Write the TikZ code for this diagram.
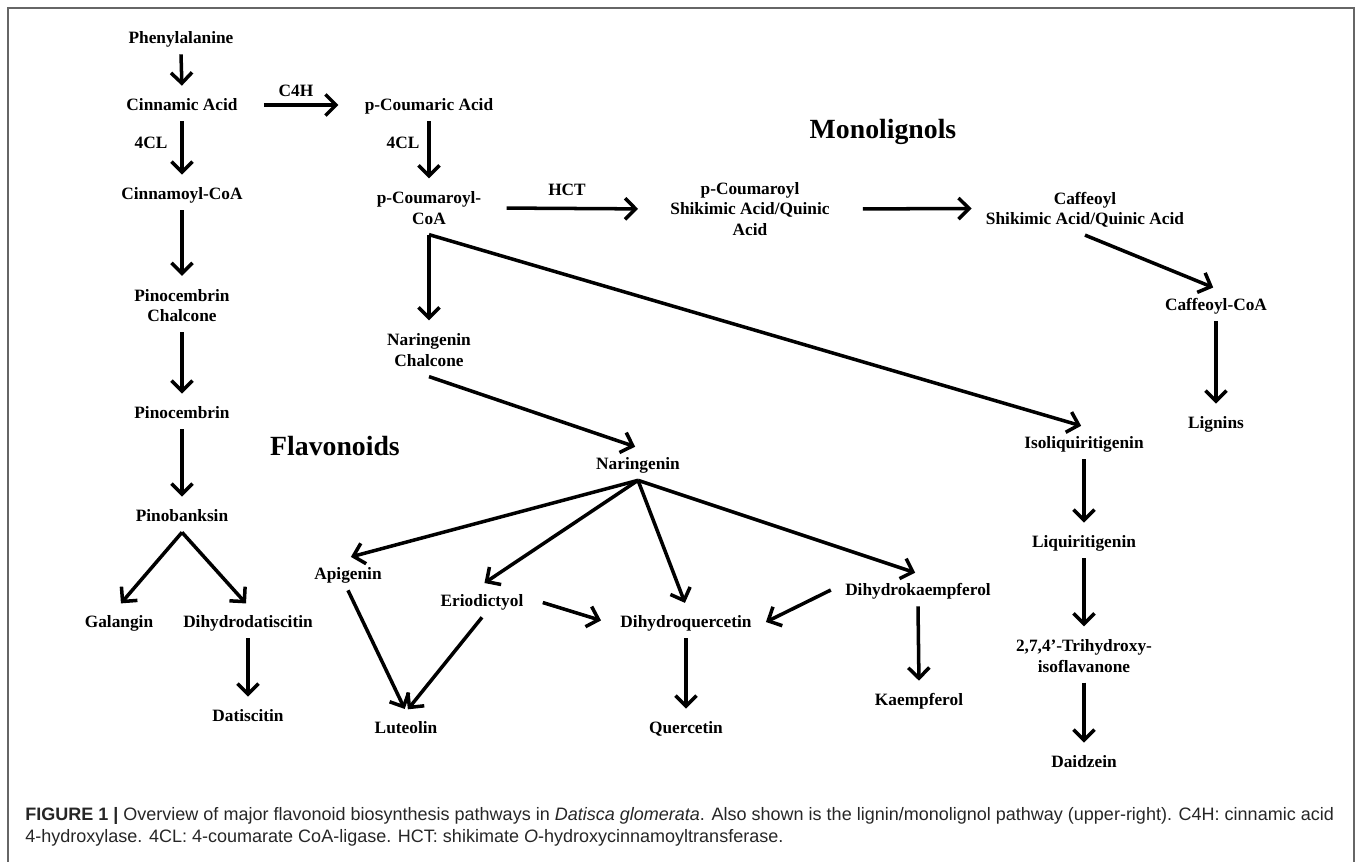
\documentclass[tikz,border=0pt]{standalone}
\usepackage{fontspec}
\setmainfont{Liberation Serif}
\newfontfamily\capfont{Liberation Sans}
\usetikzlibrary{arrows.meta}

\begin{document}
\begin{tikzpicture}[x=0.02cm, y=-0.02cm,
    met/.style={font=\bfseries\fontsize{9.85}{11.7}\selectfont, align=center,
        inner xsep=8pt, inner ysep=3.6pt, text height=8.8pt, text depth=2.2pt},
    two/.style={text height=20.5pt},
    three/.style={text height=32.2pt},
    enz/.style={font=\bfseries\fontsize{9.85}{11.7}\selectfont, inner sep=0pt},
    grp/.style={font=\bfseries\fontsize{15.8}{18}\selectfont, inner sep=0pt, anchor=base},
    flow/.style={-{Straight Barb[length=6pt,width=12pt]}, line width=2pt, shorten >=1.7pt},
]
    \useasboundingbox (0,0) rectangle (1357,862);
    \draw[black!60, line width=1.2pt] (8,862) -- (8,8) -- (1354,8) -- (1354,862);

    \node[met] (phe) at (181,38) {Phenylalanine};
    \node[met] (cin) at (182,105) {Cinnamic Acid};
    \node[met] (pca) at (429,105) {p-Coumaric Acid};
    \node[met] (cco) at (182,194) {Cinnamoyl-CoA};
    \node[met, two] (pcoa) at (429,208) {p-Coumaroyl-\\CoA};
    \node[met, three] (pshk) at (750,209) {p-Coumaroyl\\Shikimic Acid/Quinic\\Acid};
    \node[met, two] (cshk) at (1085,208.5) {Caffeoyl\\Shikimic Acid/Quinic Acid};
    \node[met] (cfcoa) at (1216,305) {Caffeoyl-CoA};
    \node[met] (lig) at (1216,423) {Lignins};

    \node[met, two] (pchal) at (182,305.5) {Pinocembrin\\Chalcone};
    \node[met] (pinc) at (182,413) {Pinocembrin};
    \node[met] (pinb) at (182,516) {Pinobanksin};
    \node[met] (gal) at (119,622) {Galangin};
    \node[met] (ddat) at (248,622) {Dihydrodatiscitin};
    \node[met] (dat) at (248,716) {Datiscitin};

    \node[met, two] (nchal) at (429,350) {Naringenin\\Chalcone};
    \node[met] (nar) at (638,464) {Naringenin};
    \node[met] (api) at (348,574) {Apigenin};
    \node[met] (eri) at (482,601) {Eriodictyol};
    \node[met] (dhq) at (686,622) {Dihydroquercetin};
    \node[met] (dhk) at (918,590) {Dihydrokaempferol};
    \node[met] (lut) at (406,728) {Luteolin};
    \node[met] (que) at (686,728) {Quercetin};
    \node[met] (kae) at (919,700) {Kaempferol};

    \node[met] (iso) at (1084,443) {Isoliquiritigenin};
    \node[met] (liq) at (1084,542) {Liquiritigenin};
    \node[met, two] (thi) at (1084,656) {2,7,4’-Trihydroxy-\\isoflavanone};
    \node[met] (dai) at (1084,762) {Daidzein};

    \node[enz] (c4h) at (296,91) {C4H};
    \node[enz] (cl1) at (151,143) {4CL};
    \node[enz] (cl2) at (403,143) {4CL};
    \node[enz] (hct) at (567,190) {HCT};
    \node[grp] (mono) at (883,138) {Monolignols};
    \node[grp] (flav) at (335,455) {Flavonoids};

    \draw[flow] (phe.south) -- (cin.north);
    \draw[flow, shorten <=6.8pt, shorten >=6.8pt] (cin.east) -- (pca.west);
    \draw[flow] (cin.south) -- (cco.north);
    \draw[flow] (pca.south) -- (pcoa.north);
    \draw[flow, shorten <=6.3pt, shorten >=10.2pt] (pcoa.east) -- (pshk.west);
    \draw[flow, shorten <=10.8pt, shorten >=0pt] (pshk.east) -- (cshk.west);
    \draw[flow] (cshk.south) -- (cfcoa.north);
    \draw[flow] (cfcoa.south) -- (lig.north);

    \draw[flow] (cco.south) -- (pchal.north);
    \draw[flow] (pchal.south) -- (pinc.north);
    \draw[flow] (pinc.south) -- (pinb.north);
    \draw[flow] (pinb.south) -- (gal.north);
    \draw[flow] (pinb.south) -- (ddat.north);
    \draw[flow] (ddat.south) -- (dat.north);

    \draw[flow] (pcoa.south) -- (nchal.north);
    \draw[flow] (pcoa.south) -- (iso.north);
    \draw[flow] (nchal.south) -- (nar.north);
    \draw[flow] (nar.south) -- (api.north);
    \draw[flow] (nar.south) -- (eri.north);
    \draw[flow] (nar.south) -- (dhq.north);
    \draw[flow] (nar.south) -- (dhk.north);
    \draw[flow] (api.south) -- (lut.north);
    \draw[flow] (eri.south) -- (lut.north);
    \draw[flow, shorten <=3pt, shorten >=3pt] (eri.east) -- (dhq.west);
    \draw[flow, shorten >=0pt] (dhk.west) -- (dhq.east);
    \draw[flow] (dhq.south) -- (que.north);
    \draw[flow] (dhk.south) -- (kae.north);

    \draw[flow] (iso.south) -- (liq.north);
    \draw[flow] (liq.south) -- (thi.north);
    \draw[flow] (thi.south) -- (dai.north);

    \node[anchor=north west, inner sep=0pt, align=left, text=black!85,
        font=\capfont\fontsize{10.25}{12.3}\selectfont] (cap) at (25,807)
        {{\bfseries FIGURE 1 |} Overview of major flavonoid biosynthesis pathways in \textit{Datisca glomerata}. Also shown is the lignin/monolignol pathway (upper-right). C4H: cinnamic acid\\
        4-hydroxylase. 4CL: 4-coumarate CoA-ligase. HCT: shikimate \textit{O}-hydroxycinnamoyltransferase.};
\end{tikzpicture}
\end{document}
